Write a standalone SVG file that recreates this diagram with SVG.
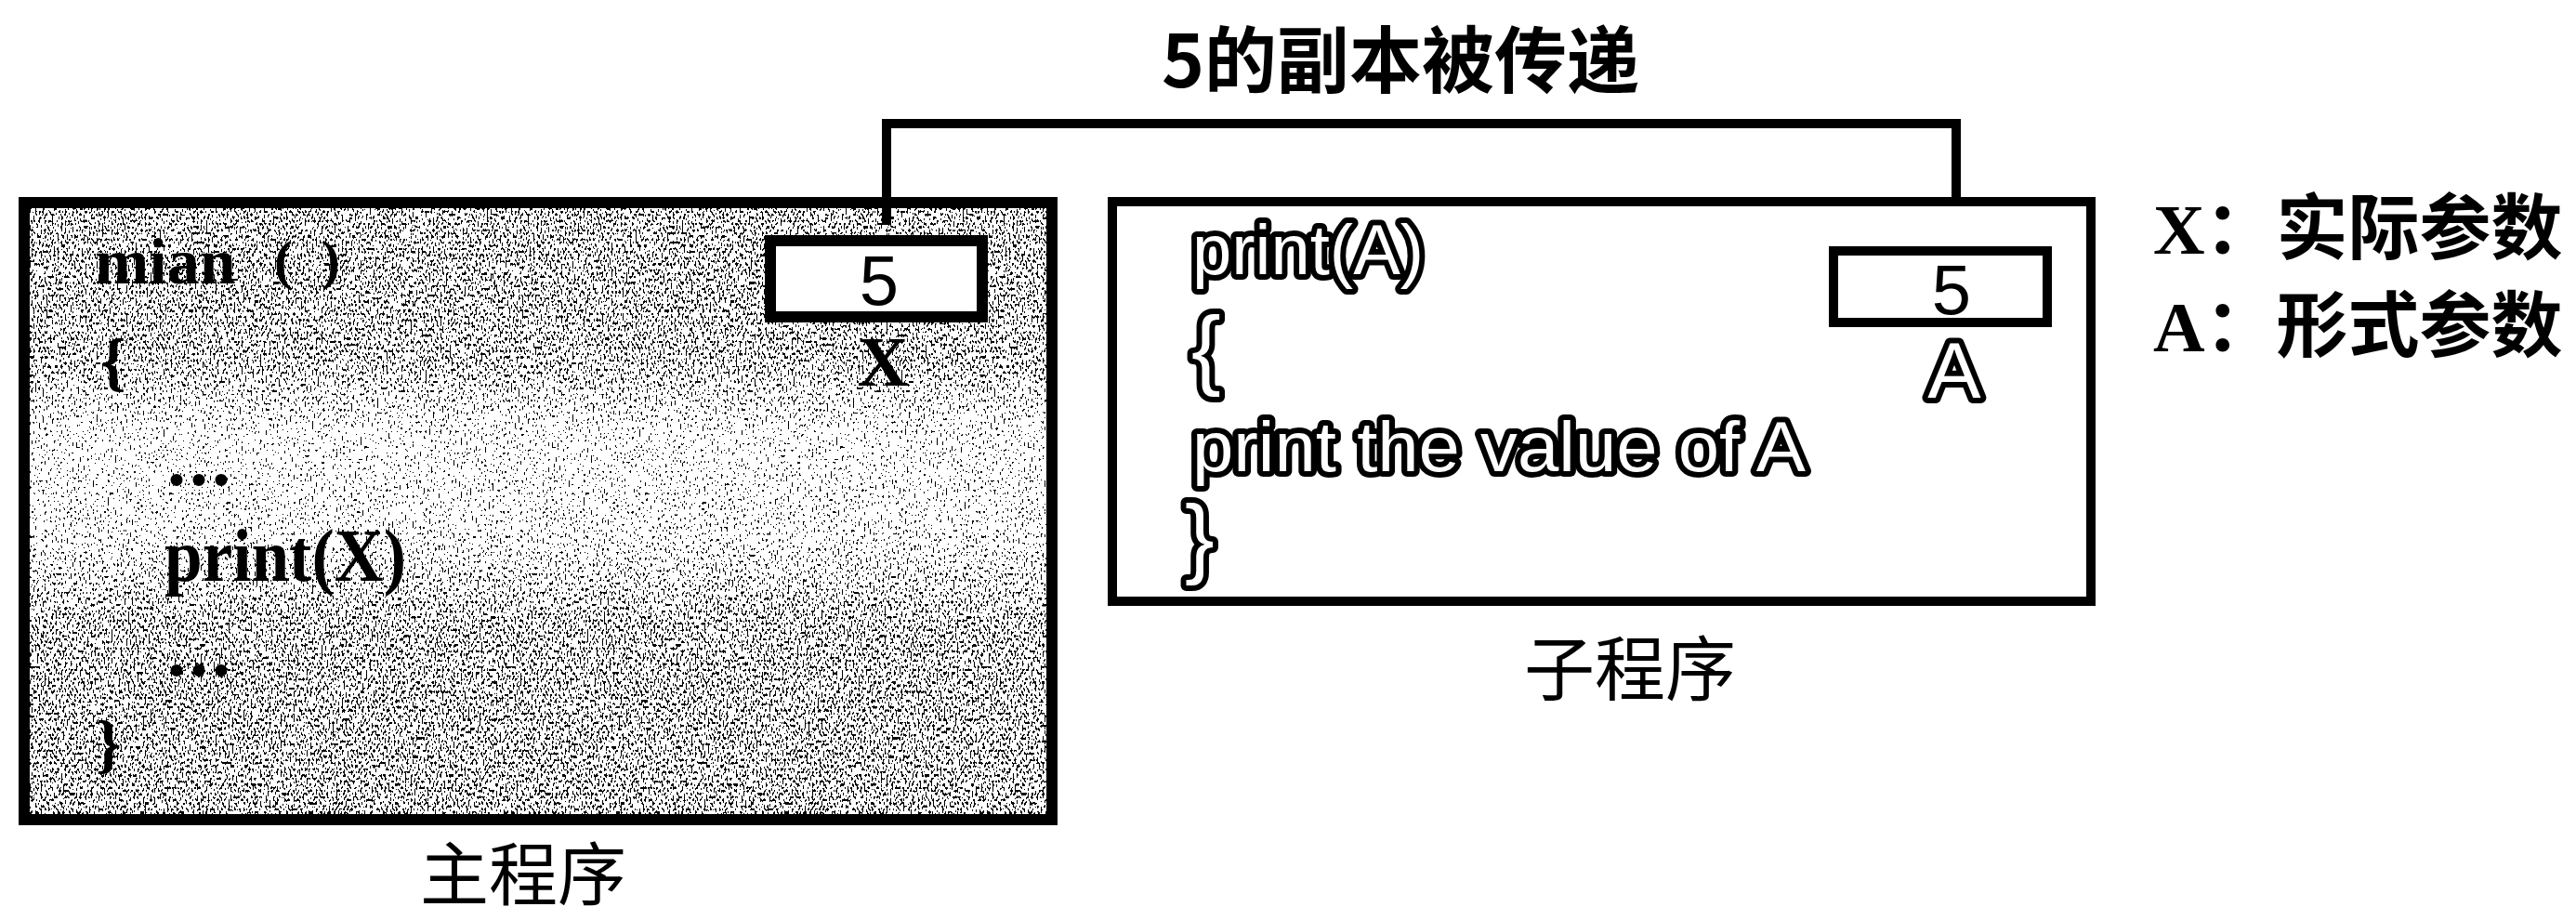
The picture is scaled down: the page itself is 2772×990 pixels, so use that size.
<svg xmlns="http://www.w3.org/2000/svg" width="2772" height="990" viewBox="0 0 2772 990">
  <defs>
    <style>
      .box { stroke: #000; }
      .serifb { font-family: "Liberation Serif", "Noto Sans CJK SC", serif; font-weight: 700; fill: #000; }
      .sans5 { font-family: "Liberation Sans", sans-serif; font-weight: 400; fill: #000; }
      .ol { font-family: "Liberation Sans", sans-serif; font-weight: 400; fill: #fff; stroke: #000; stroke-width: 12; paint-order: stroke; stroke-linejoin: round; }
      .cjk { font-family: "Noto Sans CJK SC", sans-serif; fill: #000; }
      .legend { font-family: "Liberation Serif", "Noto Sans CJK SC", serif; font-weight: 700; fill: #000; }
      .conn { fill: none; stroke: #000; stroke-width: 10; stroke-linejoin: miter; }
    </style>
    <linearGradient id="shade" x1="0" y1="0" x2="0" y2="1">
      <stop offset="0" stop-color="#a2a2a2"/>
      <stop offset="0.25" stop-color="#a6a6a6"/>
      <stop offset="0.38" stop-color="#dadada"/>
      <stop offset="0.55" stop-color="#d0d0d0"/>
      <stop offset="0.68" stop-color="#a4a4a4"/>
      <stop offset="1" stop-color="#a0a0a0"/>
    </linearGradient>
    <filter id="dither" x="0" y="0" width="100%" height="100%" color-interpolation-filters="sRGB">
      <feTurbulence type="fractalNoise" baseFrequency="0.5 0.3" numOctaves="1" seed="5" result="noise"/>
      <feColorMatrix in="noise" type="matrix" values="1 0 0 0 0  1 0 0 0 0  1 0 0 0 0  0 0 0 0 1" result="gray"/>
      <feComposite in="SourceGraphic" in2="gray" operator="arithmetic" k1="0" k2="1" k3="2" k4="-1" result="sum"/>
      <feComponentTransfer in="sum">
        <feFuncR type="discrete" tableValues="0 1"/>
        <feFuncG type="discrete" tableValues="0 1"/>
        <feFuncB type="discrete" tableValues="0 1"/>
        <feFuncA type="discrete" tableValues="1 1"/>
      </feComponentTransfer>
    </filter>
  </defs>
  <rect width="2772" height="990" fill="#fff"/>

  <g id="title">
    <text class="cjk" x="1250" y="94" font-size="78" font-weight="700">5的副本被传递</text>
  </g>

  <g id="main-program">
    <rect x="26" y="218" width="1106" height="664" fill="url(#shade)" filter="url(#dither)"/>
    <rect class="box" x="26" y="218" width="1106" height="664" fill="none" stroke-width="12"/>
    <text class="serifb" x="102" y="305" font-size="70">mian<tspan x="295" y="300" font-size="60">(</tspan><tspan x="346" y="300" font-size="60">)</tspan></text>
    <text class="serifb" x="108" y="413" font-size="70">{</text>
    <text class="serifb" x="180" y="522" font-size="80" letter-spacing="4">...</text>
    <text class="serifb" x="177" y="625" font-size="80" textLength="260" lengthAdjust="spacingAndGlyphs">print(X)</text>
    <text class="serifb" x="180" y="727" font-size="80" letter-spacing="4">...</text>
    <text class="serifb" x="103" y="824" font-size="70">}</text>
  </g>

  <g id="var-x">
    <rect class="box" x="829" y="259" width="228" height="82" fill="#fff" stroke-width="12"/>
    <text class="sans5" x="946" y="328" font-size="76" text-anchor="middle">5</text>
    <text class="serifb" x="950" y="415" font-size="76" text-anchor="middle">X</text>
  </g>

  <g id="sub-program">
    <rect class="box" x="1197" y="217" width="1053" height="430" fill="#fff" stroke-width="10"/>
    <text class="ol" x="1283" y="295" font-size="76">print(A)</text>
    <text class="ol" x="1282" y="407" font-size="95">{</text>
    <text class="ol" x="1283" y="507" font-size="76" textLength="660" lengthAdjust="spacingAndGlyphs">print the value of A</text>
    <text class="ol" x="1275" y="610" font-size="95">}</text>
  </g>

  <g id="var-a">
    <rect class="box" x="1973" y="270" width="230" height="77" fill="#fff" stroke-width="10"/>
    <text class="sans5" x="2100" y="338" font-size="76" text-anchor="middle">5</text>
    <text class="ol" x="2103" y="428" font-size="86" text-anchor="middle">A</text>
  </g>

  <g id="label-main">
    <text class="cjk" x="563" y="968" font-size="74" text-anchor="middle">主程序</text>
  </g>
  <g id="label-sub">
    <text class="cjk" x="1754" y="748" font-size="76" text-anchor="middle">子程序</text>
  </g>

  <g id="legend">
    <text class="legend" x="2317" y="273" font-size="77">X：实际参数</text>
    <text class="legend" x="2317" y="378" font-size="77">A：形式参数</text>
  </g>

  <g id="connectors">
    <path class="conn" d="M954 242 V133 H2105 V217"/>
  </g>
</svg>
